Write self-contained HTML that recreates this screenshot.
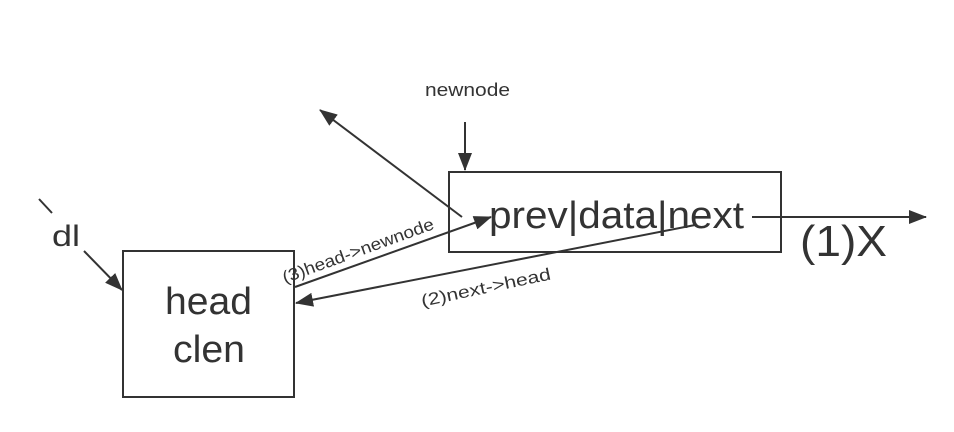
<!DOCTYPE html>
<html><head><meta charset="utf-8"><style>
html,body{margin:0;padding:0;background:#fff;}
svg{display:block;}
text{font-family:"Liberation Sans","DejaVu Sans",sans-serif;fill:#333;}
</style></head><body>
<svg width="954" height="432" viewBox="0 0 954 432" xmlns="http://www.w3.org/2000/svg">
<defs>
<marker id="b" markerWidth="18" markerHeight="14" refX="17" refY="7" orient="auto" markerUnits="userSpaceOnUse" viewBox="0 0 18 14">
<path d="M0,0 L18,7 L0,14 z" fill="#333"/></marker>
</defs>
<g stroke="#333" stroke-width="2" fill="none">
<rect x="123" y="251" width="171" height="146"/>
<rect x="449" y="172" width="332" height="80"/>
<line x1="39" y1="199" x2="52" y2="213"/>
<line x1="84" y1="251" x2="122" y2="290" marker-end="url(#b)"/>
<line x1="465" y1="122" x2="465" y2="170" marker-end="url(#b)"/>
<line x1="462" y1="217" x2="320" y2="110" marker-end="url(#b)"/>
<line x1="295" y1="287" x2="491" y2="217" marker-end="url(#b)"/>
<line x1="695" y1="225" x2="296" y2="303" marker-end="url(#b)"/>
<line x1="752" y1="217" x2="926" y2="217" marker-end="url(#b)"/>
</g>
<text x="425" y="96" font-size="18" textLength="85" lengthAdjust="spacingAndGlyphs">newnode</text>
<text x="489" y="228" font-size="38" textLength="255" lengthAdjust="spacingAndGlyphs">prev|data|next</text>
<text x="800" y="256" font-size="44" textLength="87" lengthAdjust="spacingAndGlyphs">(1)X</text>
<text x="52" y="246" font-size="30" textLength="28" lengthAdjust="spacingAndGlyphs">dl</text>
<text x="165" y="314" font-size="38" textLength="87" lengthAdjust="spacingAndGlyphs">head</text>
<text x="173" y="362" font-size="38" textLength="72" lengthAdjust="spacingAndGlyphs">clen</text>
<text x="-80" y="0" font-size="17" textLength="160" lengthAdjust="spacingAndGlyphs" transform="translate(360,256) rotate(-20)">(3)head-&gt;newnode</text>
<text x="-66" y="0" font-size="17" textLength="132" lengthAdjust="spacingAndGlyphs" transform="translate(487,293) rotate(-12)">(2)next-&gt;head</text>
</svg>
</body></html>
